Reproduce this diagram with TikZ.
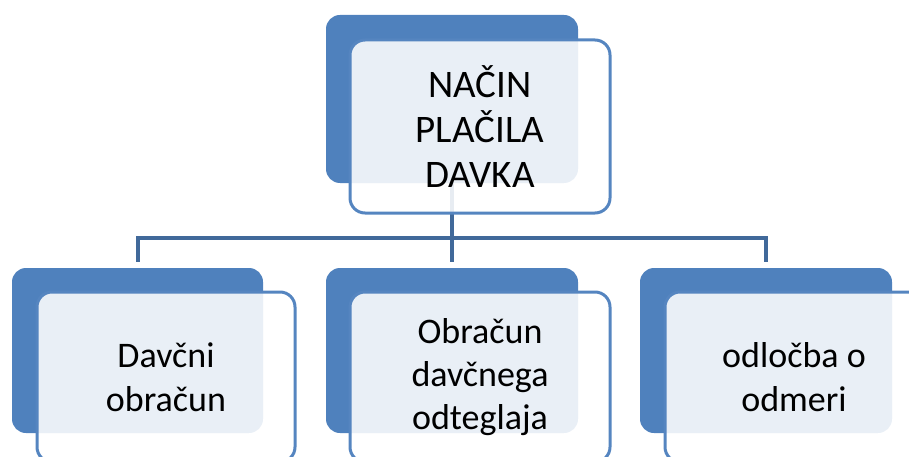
\documentclass[tikz,border=0pt]{standalone}
\usepackage{fontspec}
\setmainfont{Carlito}
\definecolor{backblue}{HTML}{4F81BD}
\definecolor{frontline}{HTML}{5585C0}
\definecolor{linkblue}{HTML}{41699A}
\begin{document}
\begin{tikzpicture}[x=1pt,y=-1pt,
  backbox/.style={fill=backblue, draw=none, rounded corners=14pt, inner sep=0pt},
  frontbox/.style={fill=white, fill opacity=0.88, text opacity=1, draw=frontline, line width=3pt, rounded corners=15pt, inner sep=0pt, align=center, text=black},
  link/.style={draw=linkblue, line width=4pt}]
\useasboundingbox (0,0) rectangle (909,457);
% back boxes
\node[backbox, minimum width=252pt, minimum height=168pt] (tback) at (452,99) {};
\node[backbox, minimum width=251pt, minimum height=165pt] (lback) at (137.5,350.5) {};
\node[backbox, minimum width=252pt, minimum height=165pt] (mback) at (452,350.5) {};
\node[backbox, minimum width=252pt, minimum height=165pt] (rback) at (766,350.5) {};
% connectors
\coordinate (bus) at (452,238);
\coordinate (lend) at ([yshift=6pt]lback.north);
\coordinate (mend) at ([yshift=6pt]mback.north);
\coordinate (rend) at ([yshift=6pt]rback.north);
\draw[link] (tback.south) -- (bus) -- (mend);
\draw[link] (lend) |- (bus) -| (rend);
% front boxes
\node[frontbox, minimum width=260pt, minimum height=173pt, font=\fontsize{39}{45}\selectfont] (tfront) at (480,126.5) {NAČIN\\PLAČILA\\DAVKA};
\node[frontbox, minimum width=258pt, minimum height=170pt, font=\fontsize{36}{44}\selectfont] (lfront) at (166,377) {Davčni\\obračun};
\node[frontbox, minimum width=260pt, minimum height=170pt, font=\fontsize{36}{43}\selectfont] (mfront) at (480,377) {Obračun\\davčnega\\odteglaja};
\node[frontbox, minimum width=258pt, minimum height=170pt, font=\fontsize{36}{44}\selectfont] (rfront) at (794,377) {odločba o\\odmeri};
\end{tikzpicture}
\end{document}
